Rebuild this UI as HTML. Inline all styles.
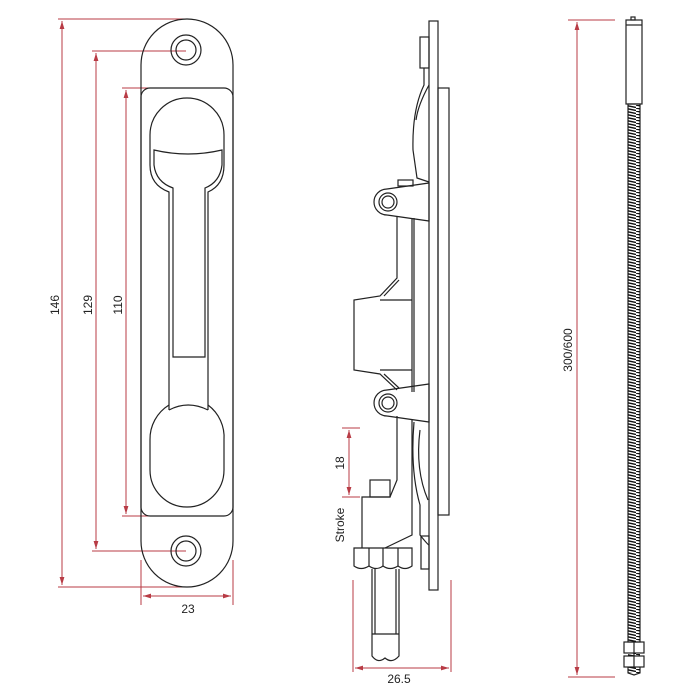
<!DOCTYPE html>
<html><head><style>body{margin:0;background:#fff}svg{display:block}</style></head><body>
<svg width="700" height="700" viewBox="0 0 700 700" xmlns="http://www.w3.org/2000/svg" font-family="Liberation Sans, sans-serif">
<defs>
<marker id="a" viewBox="0 0 10 10" refX="10" refY="5" markerWidth="8" markerHeight="8" orient="auto-start-reverse"><path d="M0,2 L10,5 L0,8 z" fill="#b83b45"/></marker>
<pattern id="t" width="12" height="3" patternUnits="userSpaceOnUse"><path d="M0,0 L12,2.5" stroke="#111" stroke-width="1.4"/></pattern>
</defs>
<g stroke="#b83b45" stroke-width="1" fill="none">
<line x1="58" y1="19" x2="186" y2="19"/><line x1="58" y1="587" x2="186" y2="587"/>
<line x1="62" y1="21" x2="62" y2="585" marker-start="url(#a)" marker-end="url(#a)"/>
<line x1="92" y1="51" x2="186" y2="51"/><line x1="92" y1="551" x2="186" y2="551"/>
<line x1="96" y1="53" x2="96" y2="549" marker-start="url(#a)" marker-end="url(#a)"/>
<line x1="122" y1="88" x2="190" y2="88"/><line x1="122" y1="516" x2="190" y2="516"/>
<line x1="126" y1="90" x2="126" y2="514" marker-start="url(#a)" marker-end="url(#a)"/>
<line x1="141" y1="560" x2="141" y2="605"/><line x1="233" y1="560" x2="233" y2="605"/>
<line x1="143" y1="596" x2="231" y2="596" marker-start="url(#a)" marker-end="url(#a)"/>
<line x1="342" y1="428" x2="360" y2="428"/><line x1="342" y1="497" x2="360" y2="497"/>
<line x1="349" y1="430" x2="349" y2="495" marker-start="url(#a)" marker-end="url(#a)"/>
<line x1="353" y1="580" x2="353" y2="672"/><line x1="451" y1="580" x2="451" y2="672"/>
<line x1="355" y1="668" x2="449" y2="668" marker-start="url(#a)" marker-end="url(#a)"/>
<line x1="568" y1="20" x2="615" y2="20"/><line x1="568" y1="677" x2="615" y2="677"/>
<line x1="577" y1="22" x2="577" y2="675" marker-start="url(#a)" marker-end="url(#a)"/>
</g>
<g font-size="12" fill="#222">
<text transform="translate(59,305) rotate(-90)" text-anchor="middle">146</text>
<text transform="translate(92,305) rotate(-90)" text-anchor="middle">129</text>
<text transform="translate(122,305) rotate(-90)" text-anchor="middle">110</text>
<text x="188" y="613" text-anchor="middle">23</text>
<text transform="translate(344,463) rotate(-90)" text-anchor="middle">18</text>
<text transform="translate(344,525) rotate(-90)" text-anchor="middle">Stroke</text>
<text x="399" y="683" text-anchor="middle">26.5</text>
<text transform="translate(572,350) rotate(-90)" text-anchor="middle">300/600</text>
</g>
<g stroke="#222" stroke-width="1.2" fill="none">
<path d="M141,65 A46,46 0 0 1 233,65 L233,541 A46,46 0 0 1 141,541 Z"/>
<rect x="141" y="88" width="92" height="428" rx="9"/>
<circle cx="186" cy="50" r="15"/><circle cx="186" cy="50" r="10"/>
<circle cx="186" cy="551" r="15"/><circle cx="186" cy="551" r="10"/>
<path d="M150,135 A37,37 0 0 1 224,135 L224,165 Q224,185 208,192 L208,410"/>
<path d="M150,135 L150,165 Q150,185 169,192 L169,410"/>
<path d="M154,150 Q188,158 222,150 L222,165 Q220,182 205,188 L205,357 L173,357 L173,188 Q156,182 154,165 Z"/>
<path d="M169,410 Q188,400 208,410"/>
<path d="M169,405 A40,40 0 0 0 150,440 L150,470 A37,37 0 0 0 224,470 L224,440 A40,40 0 0 0 208,405"/>
<rect x="429" y="21" width="9" height="569"/>
<rect x="438" y="88" width="11" height="427"/>
<rect x="420" y="37" width="9" height="31"/>
<path d="M424,68 L424,85 Q412,110 413,150 L417,178 L429,182"/>
<path d="M429,85 Q418,105 416,120"/>
<path d="M387,189 L429,183 L429,221 L387,215"/>
<path d="M387,189 A13,13 0 0 0 387,215"/>
<circle cx="388" cy="202" r="9"/><circle cx="388" cy="202" r="6"/>
<rect x="398" y="180" width="15" height="6"/>
<path d="M397,216 L397,278 L380,296 L354,300 L354,370 L380,374 L397,390"/>
<path d="M399,280 L384,296"/><path d="M384,374 L399,388"/>
<line x1="412" y1="218" x2="412" y2="392"/><line x1="414" y1="218" x2="414" y2="392"/>
<line x1="380" y1="300" x2="412" y2="300"/><line x1="380" y1="370" x2="412" y2="370"/>
<path d="M387,390 L429,384 L429,422 L387,416"/>
<path d="M387,390 A13,13 0 0 0 387,416"/>
<circle cx="388" cy="403" r="9"/><circle cx="388" cy="403" r="6"/>
<path d="M397,416 L397,480 L390,497 L362,497 L362,548"/>
<rect x="370" y="480" width="20" height="17"/>
<path d="M412,420 L412,535 L385,548"/>
<path d="M414,422 Q410,470 420,505 L420,535 Q428,545 429,545"/>
<path d="M420,430 Q415,470 428,500"/>
<rect x="421" y="536" width="8" height="33"/>
<path d="M354,548 L412,548 L412,566 Q405,571 398,566 Q390,571 383,566 Q376,571 369,566 Q361,571 354,566 Z"/>
<line x1="369" y1="548" x2="369" y2="566"/><line x1="383" y1="548" x2="383" y2="566"/><line x1="398" y1="548" x2="398" y2="566"/>
<path d="M372,569 L372,656 Q378,664 385,658 Q392,664 399,656 L399,569"/>
<line x1="375" y1="569" x2="375" y2="634"/><line x1="396" y1="569" x2="396" y2="634"/>
<line x1="372" y1="634" x2="399" y2="634"/>
<rect x="626" y="20" width="16" height="84"/>
<line x1="626" y1="25" x2="642" y2="25"/>
<rect x="631" y="17" width="4" height="3"/>
<rect x="628" y="104" width="12" height="538"/>
<rect x="624" y="642" width="20" height="11"/>
<rect x="624" y="656" width="20" height="11"/>
<line x1="634" y1="642" x2="634" y2="667"/>
<path d="M628,667 L628,673 L634,675 L640,673 L640,667"/>
</g>
<rect x="628" y="105" width="12" height="537" fill="url(#t)"/>
<rect x="628" y="653" width="12" height="3" fill="url(#t)"/>
<rect x="628" y="667" width="12" height="6" fill="url(#t)"/>
</svg>
</body></html>
